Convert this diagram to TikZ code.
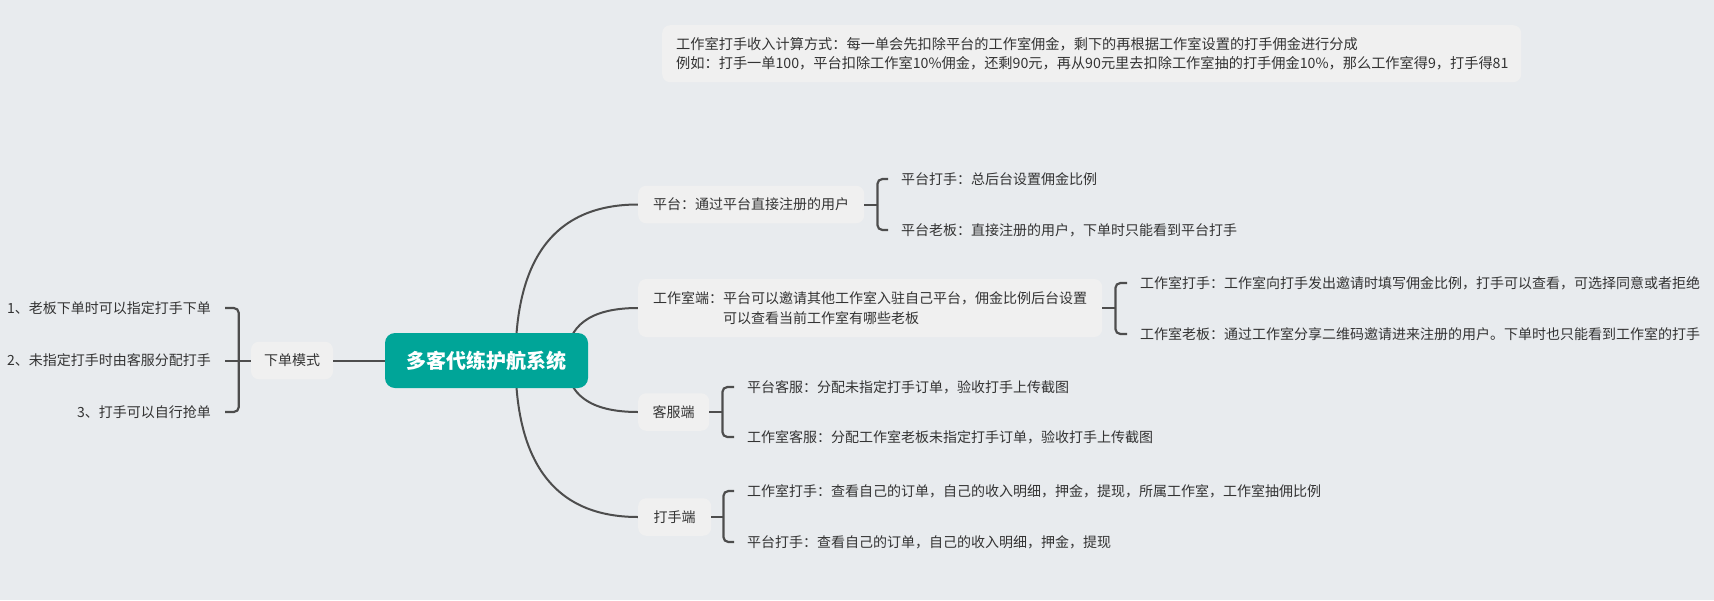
\documentclass[tikz,border=0pt]{standalone}
\usepackage{fontspec}
\setmainfont{Noto Sans CJK SC}
\usetikzlibrary{backgrounds}
\definecolor{bgc}{HTML}{E8EBEE}
\definecolor{boxc}{HTML}{F0F0F0}
\definecolor{rootc}{HTML}{00A598}
\definecolor{linec}{HTML}{4D4D4D}
\definecolor{txtc}{HTML}{333333}
\begin{document}
\begin{tikzpicture}[x=1pt,y=-1pt,
	every node/.style={text=txtc, font=\fontsize{14}{20}\selectfont},
	topic/.style={fill=boxc, rounded corners=8pt, inner xsep=13pt, minimum height=37.5pt},
	rootbox/.style={fill=rootc, rounded corners=10pt, minimum width=203pt, minimum height=55pt, text=white, font=\fontsize{20}{24}\selectfont\bfseries},
	leaf/.style={inner xsep=13pt, inner ysep=2pt},
	link/.style={draw=linec, line width=2pt},
	brace/.style={draw=linec, line width=2.2pt, rounded corners=5pt}]
			\useasboundingbox (0,0) rectangle (1714,600);
			% note
			\node[topic, anchor=north west, align=left, text width=831pt, inner xsep=14pt, minimum height=57pt, font=\fontsize{14.2}{19}\selectfont] (note) at (662,25) {工作室打手收入计算方式：每一单会先扣除平台的工作室佣金，剩下的再根据工作室设置的打手佣金进行分成\\例如：打手一单100，平台扣除工作室10\%佣金，还剩90元，再从90元里去扣除工作室抽的打手佣金10\%，那么工作室得9，打手得81};
			\node[rootbox] (root) at (486.5,360.5) {多客代练护航系统};
			% left side
			\node[topic] (mode) at (292,360.5) {下单模式};
			\node[leaf, anchor=east, inner xsep=14pt] (m1) at (225,308) {1、老板下单时可以指定打手下单};
			\node[leaf, anchor=east, inner xsep=14pt] (m2) at (225,360.5) {2、未指定打手时由客服分配打手};
			\node[leaf, anchor=east, inner xsep=14pt] (m3) at (225,412) {3、打手可以自行抢单};
			\coordinate (mj) at ([xshift=-12pt]mode.west);
			\draw[link] (root.west) -- (mode.east);
			\draw[link] (mode.west) -- (m2.east);
			\draw[brace] (m1.east) -| (mj) |- (m3.east);
			% right side
			\node[topic, anchor=west, minimum width=226pt] (b1) at (638,204.5) {平台：通过平台直接注册的用户};
			\node[topic, anchor=west, align=left, minimum width=464pt, minimum height=58pt] (b2) at (638,308) {工作室端：平台可以邀请其他工作室入驻自己平台，佣金比例后台设置\\\phantom{工作室端：}可以查看当前工作室有哪些老板};
			\node[topic, anchor=west, minimum width=71pt] (b3) at (638,412) {客服端};
			\node[topic, anchor=west, minimum width=73pt] (b4) at (638,517) {打手端};
			\node[leaf, anchor=west] (p1) at (888,179) {平台打手：总后台设置佣金比例};
			\node[leaf, anchor=west] (p2) at (888,230) {平台老板：直接注册的用户，下单时只能看到平台打手};
			\node[leaf, anchor=west] (s1) at (1127,283) {工作室打手：工作室向打手发出邀请时填写佣金比例，打手可以查看，可选择同意或者拒绝};
			\node[leaf, anchor=west] (s2) at (1127,334) {工作室老板：通过工作室分享二维码邀请进来注册的用户。下单时也只能看到工作室的打手};
			\node[leaf, anchor=west] (k1) at (734,387) {平台客服：分配未指定打手订单，验收打手上传截图};
			\node[leaf, anchor=west] (k2) at (734,437) {工作室客服：分配工作室老板未指定打手订单，验收打手上传截图};
			\node[leaf, anchor=west] (d1) at (734,491) {工作室打手：查看自己的订单，自己的收入明细，押金，提现，所属工作室，工作室抽佣比例};
			\node[leaf, anchor=west] (d2) at (734,542) {平台打手：查看自己的订单，自己的收入明细，押金，提现};
			\coordinate (pj) at ([xshift=13pt]b1.east);
			\coordinate (sj) at ([xshift=13pt]b2.east);
			\coordinate (kj) at ([xshift=13pt]b3.east);
			\coordinate (dj) at ([xshift=12pt]b4.east);
			\draw[link] (b1.east) -- (pj);
			\draw[link] (b2.east) -- (sj);
			\draw[link] (b3.east) -- (kj);
			\draw[link] (b4.east) -- (dj);
			\draw[brace] (p1.west) -| (pj) |- (p2.west);
			\draw[brace] (s1.west) -| (sj) |- (s2.west);
			\draw[brace] (k1.west) -| (kj) |- (k2.west);
			\draw[brace] (d1.west) -| (dj) |- (d2.west);
			\begin{pgfonlayer}{background}
				\fill[bgc] (0,0) rectangle (1714,600);
				\draw[link] ([xshift=29pt]root.center) .. controls (515.5,256.5) and (556.3,204.5) .. (b1.west);
				\draw[link] ([xshift=80pt]root.center) .. controls (566.5,325.5) and (590.3,308) .. (b2.west);
				\draw[link] ([xshift=80pt]root.center) .. controls (566.5,394.8) and (590.3,412) .. (b3.west);
				\draw[link] ([xshift=29pt]root.center) .. controls (515.5,464.8) and (556.3,517) .. (b4.west);
			\end{pgfonlayer}
		\end{tikzpicture}
\end{document}
